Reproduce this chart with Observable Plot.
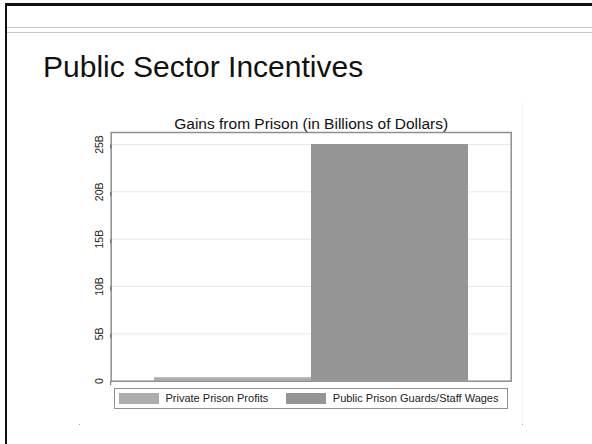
<!DOCTYPE html>
<html><head><meta charset="utf-8">
<script src="https://cdn.jsdelivr.net/npm/d3@7"></script>
<script src="https://cdn.jsdelivr.net/npm/@observablehq/plot@0.6"></script>
<style>
body{margin:0;background:#fff;font-family:"Liberation Sans",Arial,sans-serif;}
#page{position:relative;width:592px;height:444px;overflow:hidden;background:#fff;}
.abs{position:absolute;}
#slideTitle{left:43px;top:47px;font-size:30px;line-height:40px;color:#111;white-space:nowrap;}
.leg-text{font-size:11px;line-height:14px;color:#222;white-space:nowrap;}
#chart{left:0;top:0;}
</style></head><body><div id="page">
<div class="abs" style="left:5px;top:3px;width:600px;height:3px;background:#111"></div>
<div class="abs" style="left:4.7px;top:3px;width:2.7px;height:460px;background:#111"></div>
<div class="abs" style="left:7px;top:27px;width:600px;height:1px;background:#c9c9c9"></div>
<div class="abs" style="left:7px;top:32px;width:600px;height:1px;background:#c9c9c9"></div>
<div class="abs" style="left:522px;top:102px;width:1px;height:322px;background:#f3f3f3"></div>
<div class="abs" style="left:79px;top:424px;width:1px;height:1px;background:#aaa"></div>
<div class="abs" style="left:522px;top:424px;width:1px;height:1px;background:#aaa"></div>
<div id="slideTitle" class="abs"></div>
<div id="chart" class="abs"></div>
<div id="legend" class="abs" style="left:114px;top:387.7px;width:394px;height:21.6px;box-sizing:border-box;border:1.5px solid #909090;"></div>
</div>
<script>
const slideTitle = "Public Sector Incentives";
const chartTitle = "Gains from Prison (in Billions of Dollars)";
const categories = ["Private Prison Profits", "Public Prison Guards/Staff Wages"];
const values = [0.37, 25];            // billions of dollars
const colors = ["#adadad", "#959595"];
const yTicks = [0, 5, 10, 15, 20, 25];
const tickLabels = ["0", "5B", "10B", "15B", "20B", "25B"];

document.getElementById("slideTitle").textContent = slideTitle;

const data = categories.map((c, i) => ({category: c, value: values[i]}));

const chart = Plot.plot({
  width: 592,
  height: 444,
  marginLeft: 110.7,
  marginRight: 81.3,
  marginTop: 132,
  marginBottom: 63.3,
  style: {background: "transparent", fontFamily: '"Liberation Sans", Arial, sans-serif', fontSize: "10.5px", color: "#222", overflow: "visible"},
  x: {domain: categories, paddingInner: 0, paddingOuter: 0.27, axis: null},
  y: {domain: [0, 26.27], axis: null},
  color: {domain: categories, range: colors},
  marks: [
    Plot.gridY(yTicks, {stroke: "#e9e9e9", strokeOpacity: 1, strokeWidth: 1}),
    Plot.barY(data, {x: "category", y: "value", fill: "category"}),
    Plot.frame({stroke: "#8e8e8e", strokeWidth: 1.5}),
    Plot.axisY(yTicks, {
      label: null,
      tickFormat: d => tickLabels[yTicks.indexOf(d)],
      tickSize: 4, tickPadding: 8, rotate: -90, textAnchor: "middle",
      stroke: "#666", fill: "#222", fontSize: 10.5
    }),
    Plot.text([chartTitle], {frameAnchor: "top", lineAnchor: "bottom", dy: -4, fontSize: 15.5, fill: "#111"})
  ]
});
document.getElementById("chart").appendChild(chart);

const legend = document.getElementById("legend");
const legPos = [{sw: 119.3, tx: 166}, {sw: 286, tx: 333.3}];
categories.forEach((c, i) => {
  const sw = document.createElement("div");
  sw.className = "abs";
  sw.style.cssText = `left:${legPos[i].sw - 114 - 1.5}px;top:${393.3 - 387.7 - 1.5}px;width:40px;height:11px;background:${colors[i]}`;
  legend.appendChild(sw);
  const t = document.createElement("div");
  t.className = "abs leg-text";
  t.style.left = (legPos[i].tx - 114 - 1.5) + "px";
  t.style.top = (391.8 - 387.7 - 1.5) + "px";
  t.textContent = c;
  legend.appendChild(t);
});
</script>
</body></html>
